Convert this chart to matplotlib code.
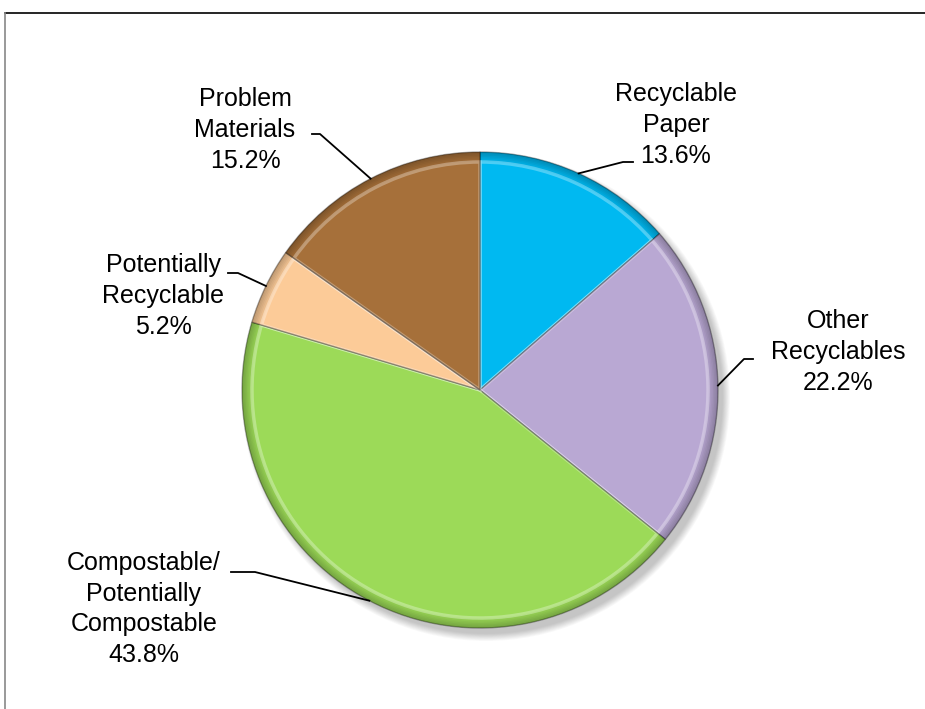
import numpy as np
import matplotlib
matplotlib.use("Agg")
from matplotlib import pyplot as plt
from matplotlib.patches import Wedge, Circle

plt.rcParams['font.family'] = ['Liberation Sans', 'DejaVu Sans']

# data
labels = ['Recyclable\nPaper', 'Other\nRecyclables', 'Compostable/\nPotentially\nCompostable',
          'Potentially\nRecyclable', 'Problem\nMaterials']
shares = [13.6, 22.2, 43.8, 5.2, 15.2]
colors = ['#00B9F1', '#B9A8D3', '#9CDA58', '#FCCB98', '#A6703A']

# layout (pixel coords, y from top)
W, H = 925, 709
cx, cy, R = 480, 390, 238
text_pos = [(676, 125), (838, 352), (144, 609), (163, 296), (245, 130)]
elbow = [[(623, 162), (633, 162)],
         [(744, 359), (753, 359)],
         [(255, 572), (231, 572)],
         [(238, 273), (228, 273)],
         [(320, 134), (312, 134)]]

fig = plt.figure(figsize=(W / 100, H / 100), dpi=100)
ax = fig.add_axes([0, 0, 1, 1])
ax.set_xlim(0, W)
ax.set_ylim(0, H)
ax.axis('off')

def fy(y):
    return H - y

# frame
ax.plot([5, W], [fy(13), fy(13)], color='black', lw=1.2)
ax.plot([5, 5], [fy(13), 0], color='#888888', lw=1.2)

# soft shadow
for k in range(10):
    ax.add_patch(Circle((cx + 6, fy(cy) - 7), R + 6 - k * 0.8, color='black',
                        alpha=0.025, lw=0))

# wedges
angle = 90.0
for lab, s, col, tp, el in zip(labels, shares, colors, text_pos, elbow):
    span = s * 3.6
    t1, t2 = angle - span, angle
    ax.add_patch(Wedge((cx, fy(cy)), R, t1, t2, facecolor=col, edgecolor='none'))
    # bevel: dark rim and light inner edge
    for k in range(6):
        ax.add_patch(Wedge((cx, fy(cy)), R, t1, t2, width=2 + k * 1.5, facecolor='black',
                           alpha=0.04, edgecolor='none'))
    ax.add_patch(Wedge((cx, fy(cy)), R - 10, t1, t2, facecolor='none',
                       edgecolor='white', alpha=0.3, lw=2.5))
    ax.add_patch(Wedge((cx, fy(cy)), R, t1, t2, facecolor='none',
                       edgecolor='#00000055', lw=1.0))

    mid = np.deg2rad(angle - span / 2)
    rx, ry = cx + R * np.cos(mid), cy - R * np.sin(mid)
    xs = [rx] + [p[0] for p in el]
    ys = [fy(ry)] + [fy(p[1]) for p in el]
    ax.plot(xs, ys, color='black', lw=1.3)

    ax.text(tp[0], fy(tp[1]), '%s\n%.1f%%' % (lab, s), ha='center', va='center',
            fontsize=18, linespacing=1.36)
    angle -= span

fig.savefig('out.png', dpi=100)
